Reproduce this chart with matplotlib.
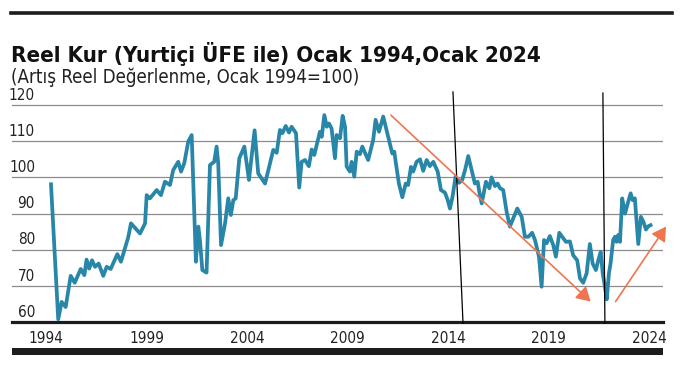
#!/usr/bin/env python3
# -*- coding: utf-8 -*-

import numpy as np
import matplotlib
matplotlib.use("Agg")
import matplotlib.pyplot as plt
from matplotlib.patches import Rectangle
from matplotlib.lines import Line2D
import matplotlib.transforms as mtransforms

plt.rcParams['font.family'] = ['DejaVu Sans']
plt.rcParams['font.stretch'] = 'condensed'

TITLE = "Reel Kur (Yurtiçi ÜFE ile) Ocak 1994,Ocak 2024"
SUBTITLE = "(Artış Reel Değerlenme, Ocak 1994=100)"

# decimal year, value
years = [
    1994.25, 1994.61, 1994.78, 1994.98, 1995.23, 1995.43, 1995.73, 1995.91,
    1996.02, 1996.15, 1996.29, 1996.44, 1996.62, 1996.85, 1997.02, 1997.22,
    1997.55, 1997.73, 1998.09, 1998.23, 1998.68, 1998.93, 1999.01, 1999.17,
    1999.51, 1999.72, 1999.92, 2000.17, 2000.33, 2000.58, 2000.72, 2000.88,
    2001.08, 2001.25, 2001.46, 2001.58, 2001.66, 2001.78, 2001.99, 2002.16,
    2002.37, 2002.49, 2002.57, 2002.71, 2002.91, 2003.07, 2003.20, 2003.32,
    2003.44, 2003.62, 2003.87, 2004.10, 2004.38, 2004.56, 2004.90, 2005.31,
    2005.48, 2005.64, 2005.76, 2005.93, 2006.09, 2006.22, 2006.44, 2006.60,
    2006.72, 2006.89, 2007.08, 2007.22, 2007.35, 2007.63, 2007.72, 2007.85,
    2007.97, 2008.08, 2008.21, 2008.38, 2008.46, 2008.63, 2008.76, 2008.88,
    2008.96, 2009.12, 2009.21, 2009.34, 2009.46, 2009.62, 2009.74, 2010.03,
    2010.28, 2010.40, 2010.57, 2010.78, 2011.03, 2011.23, 2011.33, 2011.40,
    2011.56, 2011.73, 2011.90, 2012.02, 2012.16, 2012.27, 2012.44, 2012.61,
    2012.77, 2012.94, 2013.10, 2013.27, 2013.49, 2013.65, 2013.85, 2013.99,
    2014.10, 2014.23, 2014.38, 2014.55, 2014.71, 2014.85, 2015.01, 2015.18,
    2015.34, 2015.48, 2015.56, 2015.68, 2015.89, 2016.06, 2016.17, 2016.34,
    2016.47, 2016.59, 2016.75, 2016.92, 2017.08, 2017.25, 2017.45, 2017.67,
    2017.83, 2018.00, 2018.19, 2018.33, 2018.53, 2018.66, 2018.78, 2018.91,
    2019.07, 2019.24, 2019.37, 2019.54, 2019.71, 2019.87, 2020.07, 2020.23,
    2020.43, 2020.57, 2020.73, 2020.90, 2021.06, 2021.20, 2021.36, 2021.48,
    2021.60, 2021.70, 2021.81, 2021.90, 2022.01, 2022.09, 2022.22, 2022.31,
    2022.39, 2022.47, 2022.56, 2022.67, 2022.81, 2022.97, 2023.09, 2023.19,
    2023.30, 2023.47, 2023.60, 2023.72, 2023.85, 2023.97, 2024.08,
]
values = [
    98.1, 60.8, 65.6, 64.2, 72.8, 70.9, 74.7, 73.0,
    77.3, 74.8, 77.1, 75.3, 76.2, 72.8, 75.3, 74.7,
    78.8, 76.7, 83.4, 87.3, 84.5, 87.3, 95.1, 94.2,
    96.5, 95.1, 98.8, 97.9, 102.0, 104.3, 101.6, 103.9,
    109.9, 111.7, 76.7, 86.4, 82.7, 74.4, 73.7, 103.4,
    104.3, 108.5, 103.9, 81.3, 87.3, 94.2, 89.6, 93.7,
    94.2, 105.3, 108.5, 99.3, 113.0, 101.1, 98.3, 107.6,
    106.8, 113.1, 112.2, 114.2, 112.4, 114.0, 112.2, 97.2,
    104.3, 104.8, 103.1, 107.7, 106.2, 112.6, 111.2, 117.2,
    114.0, 114.9, 113.5, 105.3, 111.7, 110.8, 117.0, 114.0,
    103.0, 101.6, 104.3, 100.2, 107.1, 106.4, 108.5, 104.8,
    110.3, 115.9, 112.6, 116.8, 111.2, 106.6, 107.1, 104.3,
    98.3, 94.5, 98.3, 97.9, 102.9, 101.6, 104.3, 105.0,
    101.8, 104.8, 103.1, 104.3, 101.6, 96.5, 95.8, 93.7,
    91.4, 94.7, 100.2, 98.5, 99.3, 102.0, 105.9, 102.0,
    98.3, 98.8, 96.0, 92.8, 98.8, 97.0, 100.0, 97.6,
    98.3, 97.0, 96.5, 90.5, 86.4, 88.7, 91.4, 89.1,
    83.6, 83.6, 84.7, 82.7, 78.1, 69.8, 82.7, 81.8,
    83.8, 81.3, 78.1, 84.7, 83.4, 82.2, 82.3, 78.5,
    77.1, 72.1, 70.9, 73.5, 81.6, 76.2, 74.4, 77.1,
    79.4, 73.5, 69.8, 66.3, 73.5, 76.2, 82.7, 83.6,
    82.2, 84.1, 82.2, 94.2, 90.0, 93.3, 95.6, 93.7,
    94.2, 81.6, 89.1, 87.8, 85.6, 86.5, 86.8,
]

x_ticks = [1994, 1999, 2004, 2009, 2014, 2019, 2024]
y_ticks = [60, 70, 80, 90, 100, 110, 120]

# annotation marks: black separators and orange trend arrows
separators = [((2014.25, 123.6), (2014.75, 59.7)), ((2021.71, 123.3), (2021.81, 59.7))]
trend_arrows = [((2011.16, 117.2), (2021.10, 65.7)), ((2022.34, 65.7), (2024.85, 86.4))]

LINE_C = "#2886a8"
ARROW_C = "#ef7550"
GRID_C = "#8c8c8c"
DARK = "#1c1c1c"


def make():
    fig = plt.figure(figsize=(6.84, 3.65), dpi=100)
    W, H = 684, 365
    ax = fig.add_axes([12 / W, 1 - 322.2 / H, 651 / W, (322.2 - 90.5) / H])

    ax.set_xlim(1992.31, 2024.70)
    ax.set_ylim(60, 124)

    for s in ["top", "right", "left"]:
        ax.spines[s].set_visible(False)
    ax.spines["bottom"].set_linewidth(2.3)
    ax.spines["bottom"].set_color(DARK)

    ax.set_yticks(y_ticks)
    ax.set_yticklabels([])
    ax.tick_params(axis="y", length=0)
    ax.yaxis.grid(True, color=GRID_C, lw=0.9)
    ax.set_axisbelow(True)

    ax.set_xticks(x_ticks)
    ax.set_xticklabels([str(t) for t in x_ticks], size=11, color="#222222")
    ax.tick_params(axis="x", length=0, pad=6)

    # y labels sit above the grid lines on the left
    trans = mtransforms.blended_transform_factory(ax.transAxes, ax.transData)
    for v in y_ticks:
        ax.text(0.0353, v + 1.5, str(v), transform=trans, ha="right", va="baseline",
                size=11, color="#222222")

    ax.plot(years, values, color=LINE_C, lw=2.7, solid_joinstyle="round", zorder=3)

    for (x0, y0), (x1, y1) in separators:
        ax.add_line(Line2D([x0, x1], [y0, y1], color="black", lw=0.9, clip_on=False, zorder=4))

    for start, end in trend_arrows:
        ax.annotate("", xy=end, xytext=start, annotation_clip=False,
                    arrowprops=dict(arrowstyle="-|>,head_length=0.6,head_width=0.35",
                                    mutation_scale=14, color=ARROW_C, lw=1.2,
                                    shrinkA=0, shrinkB=0), zorder=5)

    # frame decoration
    fig.add_artist(Line2D([11 / W, 672 / W], [1 - 13 / H, 1 - 13 / H], color=DARK, lw=2.6))
    fig.add_artist(Rectangle((12 / W, 1 - 355 / H), 651 / W, 7 / H, color=DARK, lw=0))

    fig.text(11 / W, 1 - 62 / H, TITLE, ha="left", va="baseline", size=16,
             weight="bold", color="#111111")
    fig.text(11 / W, 1 - 83 / H, SUBTITLE, ha="left", va="baseline", size=13.4,
             color="#222222")

    fig.savefig("out.png", dpi=100)
    plt.close(fig)


if __name__ == "__main__":
    make()
